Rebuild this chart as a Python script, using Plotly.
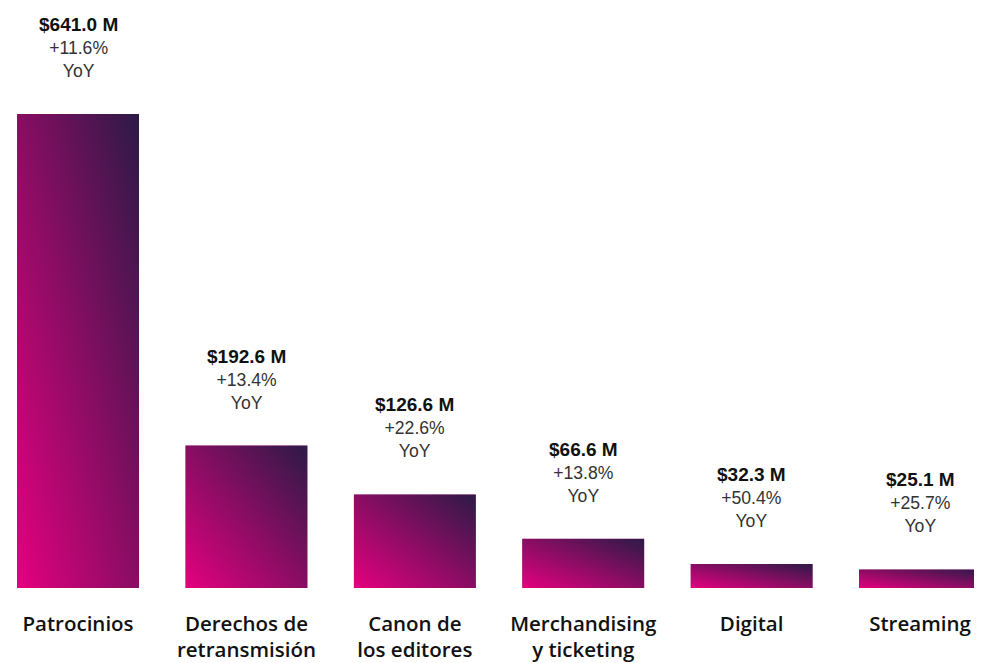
import plotly.graph_objects as go
import base64

categories = ["Patrocinios", "Derechos de<br>retransmisión", "Canon de<br>los editores",
              "Merchandising<br>y ticketing", "Digital", "Streaming"]
values = [641.0, 192.6, 126.6, 66.6, 32.3, 25.1]
value_labels = ["$641.0 M", "$192.6 M", "$126.6 M", "$66.6 M", "$32.3 M", "$25.1 M"]
yoy = ["+11.6%", "+13.4%", "+22.6%", "+13.8%", "+50.4%", "+25.7%"]

C_START = "#e5007f"
C_END = "#2c1a47"
BAR_W = 0.724

svg = (
    '<svg xmlns="http://www.w3.org/2000/svg" width="100" height="100" preserveAspectRatio="none" viewBox="0 0 100 100">'
    '<defs><linearGradient id="g" x1="0" y1="1" x2="1" y2="0">'
    f'<stop offset="0" stop-color="{C_START}"/><stop offset="1" stop-color="{C_END}"/>'
    '</linearGradient></defs><rect width="100" height="100" fill="url(#g)"/></svg>'
)
uri = "data:image/svg+xml;base64," + base64.b64encode(svg.encode()).decode()

x = list(range(len(categories)))
fig = go.Figure(go.Bar(x=x, y=values, width=BAR_W, marker=dict(color="#8a1466", line=dict(width=0)),
                       hoverinfo="skip"))

images = []
annotations = []
for i, v in enumerate(values):
    images.append(dict(source=uri, xref="x", yref="y", x=i - BAR_W / 2, y=v,
                       sizex=BAR_W, sizey=v, xanchor="left", yanchor="top",
                       sizing="stretch", layer="above"))
    annotations.append(dict(
        x=i, y=v, xref="x", yref="y", yanchor="bottom", yshift=31, showarrow=False,
        align="center",
        text=(f"<span style='font-size:19px'><b>{value_labels[i]}</b></span><br>"
              f"<span style='color:#333'>{yoy[i]}<br>YoY</span>"),
        font=dict(family="Liberation Sans, Arial, sans-serif", size=17.6, color="#111"),
    ))

fig.update_layout(
    width=974, height=655,
    margin=dict(l=0, r=0, t=0, b=75),
    paper_bgcolor="white", plot_bgcolor="white",
    showlegend=False,
    images=images,
    annotations=annotations,
    xaxis=dict(range=[-0.416, 5.368], tickmode="array", tickvals=x, ticktext=categories,
               showgrid=False, zeroline=False, showline=False, automargin=False,
               ticks="outside", ticklen=17, tickcolor="rgba(0,0,0,0)",
               tickfont=dict(family="Open Sans, sans-serif", size=20.5, color="#111", weight=600)),
    yaxis=dict(range=[0, 784.3], visible=False, fixedrange=True),
)

fig.write_html("out.html")
